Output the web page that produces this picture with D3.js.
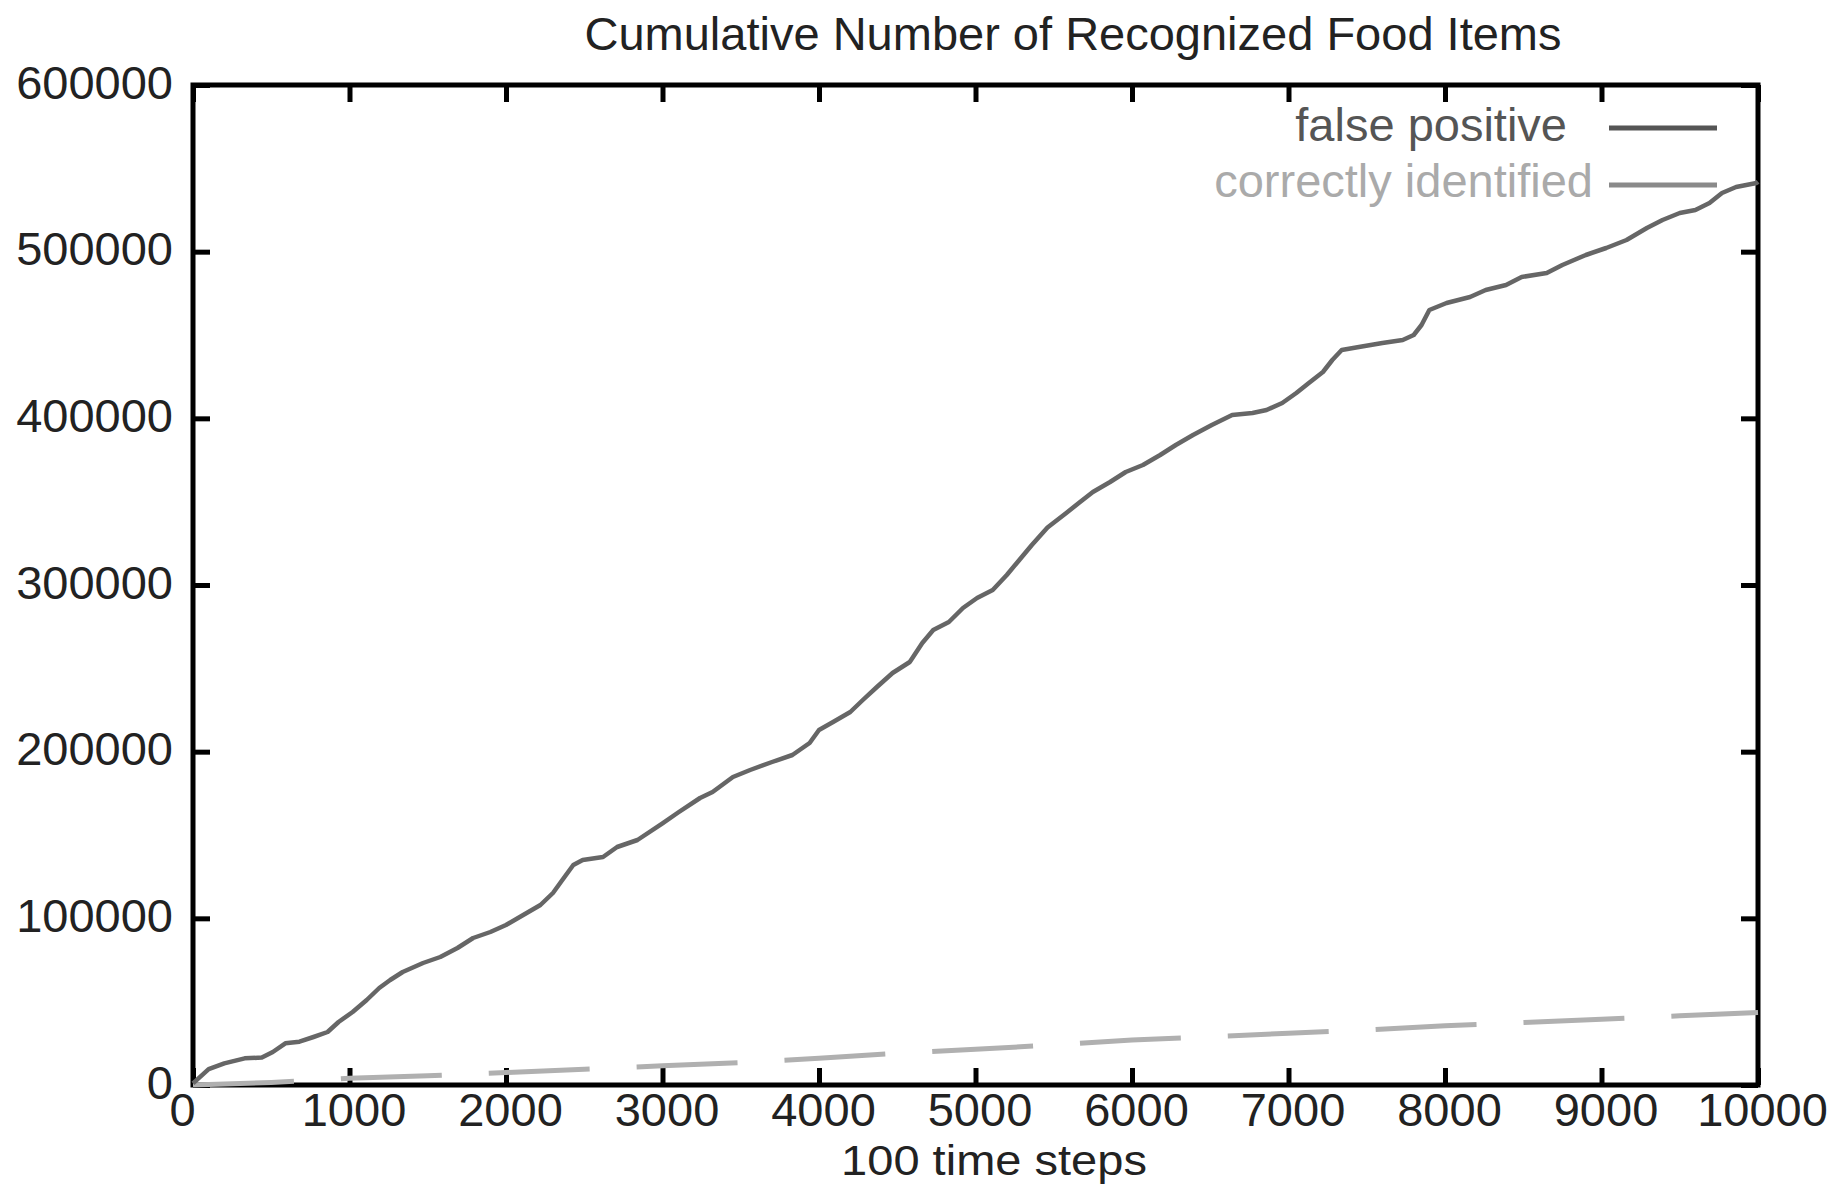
<!DOCTYPE html>
<html>
<head>
<meta charset="utf-8">
<title>Cumulative Number of Recognized Food Items</title>
<script src="https://cdn.jsdelivr.net/npm/d3@7"></script>
<style>
  html, body { margin: 0; padding: 0; background: #fff; }
  svg { display: block; }
  text { font-family: "Liberation Sans", Arial, Helvetica, sans-serif; }
</style>
</head>
<body>
<svg id="chart" width="1831" height="1185"></svg>
<script>
// Cumulative false positives, sampled at irregular time steps (x = 100 time steps)
const fpSteps = [0, 100, 200, 330, 440, 510, 590, 680, 770, 860, 930, 1020, 1110, 1190, 1260, 1340,
  1470, 1580, 1690, 1790, 1900, 2000, 2110, 2220, 2300, 2360, 2430, 2490, 2620, 2710, 2840, 3000,
  3100, 3240, 3320, 3450, 3560, 3700, 3830, 3940, 4000, 4090, 4200, 4280, 4370, 4470, 4580, 4660,
  4730, 4830, 4920, 5010, 5110, 5200, 5280, 5360, 5460, 5580, 5660, 5750, 5860, 5960, 6070, 6180,
  6280, 6390, 6510, 6640, 6770, 6860, 6960, 7050, 7130, 7220, 7280, 7340, 7450, 7600, 7730, 7800,
  7850, 7900, 8010, 8160, 8260, 8390, 8490, 8650, 8750, 8900, 9030, 9160, 9290, 9390, 9500, 9600,
  9690, 9770, 9860, 9990, 10000];
const fpCounts = [1000, 9500, 13000, 16000, 16500, 19800, 25000, 26000, 28800, 31800, 37800, 43800,
  51000, 58200, 63000, 67800, 73200, 76800, 82200, 88200, 91800, 96000, 102000, 108000, 115200,
  123000, 132000, 135000, 136800, 142800, 147000, 157000, 163500, 172200, 175800, 184800, 189000,
  193800, 198000, 205200, 213000, 217800, 223800, 231000, 238800, 247200, 253800, 265200, 273000,
  277800, 286200, 292200, 297000, 306000, 315000, 324000, 334500, 343200, 349200, 355800, 361800,
  367800, 372000, 378000, 384000, 390000, 396000, 402000, 403200, 405000, 409200, 415200, 421200,
  427800, 435000, 441000, 442800, 445200, 447000, 450000, 456000, 465000, 469200, 472800, 477000,
  480000, 484800, 487200, 492000, 498000, 502200, 507000, 514200, 519000, 523200, 525000, 529200,
  535200, 538800, 541200, 542000];

// Cumulative correctly identified items
const ciSteps = [0, 500, 1000, 1500, 2000, 2500, 3000, 3500, 4000, 4500, 5000, 5500, 6000, 6500,
  7000, 7500, 8000, 8500, 9000, 9500, 10000];
const ciCounts = [0, 1500, 4000, 5500, 7500, 9500, 11500, 13500, 16000, 19000, 21500, 24000, 27000,
  29000, 31000, 33000, 35500, 37500, 39500, 41500, 43500];

const xTicks = [0, 1000, 2000, 3000, 4000, 5000, 6000, 7000, 8000, 9000, 10000];
const yTicks = [0, 100000, 200000, 300000, 400000, 500000, 600000];

const seriesNames = ["false positive", "correctly identified"];
const titleText = "Cumulative Number of Recognized Food Items";
const xLabelText = "100 time steps";

// Plot frame
const plot = { left: 193, right: 1758, top: 85, bottom: 1085 };
const FONT = 47;

const svg = d3.select("#chart");

const x = d3.scaleLinear().domain([0, 10000]).range([plot.left, plot.right]);
const y = d3.scaleLinear().domain([0, 600000]).range([plot.bottom, plot.top]);

// Axes with inward ticks on all four sides
function styleAxis(g) {
  g.select(".domain").remove();
  g.selectAll(".tick line").attr("stroke", "#000").attr("stroke-width", 5);
  g.selectAll(".tick text")
    .attr("fill", "#222")
    .style("font-size", FONT + "px")
    .style("font-family", "'Liberation Sans', Arial, Helvetica, sans-serif");
}

svg.append("g")
  .attr("transform", `translate(0,${plot.bottom})`)
  .call(d3.axisBottom(x).tickValues(xTicks).tickFormat(d3.format("d"))
    .tickSizeInner(-17).tickSizeOuter(0).tickPadding(8))
  .call(styleAxis)
  .call(g => g.selectAll(".tick text").attr("dx", d => d === 0 ? -11 : 4));

svg.append("g")
  .attr("transform", `translate(0,${plot.top})`)
  .call(d3.axisTop(x).tickValues(xTicks).tickFormat("")
    .tickSizeInner(-17).tickSizeOuter(0))
  .call(styleAxis);

svg.append("g")
  .attr("transform", `translate(${plot.left},0)`)
  .call(d3.axisLeft(y).tickValues(yTicks).tickFormat(d3.format("d"))
    .tickSizeInner(-17).tickSizeOuter(0).tickPadding(20))
  .call(styleAxis)
  .call(g => g.selectAll(".tick text").attr("dy", "0.28em"));

svg.append("g")
  .attr("transform", `translate(${plot.right},0)`)
  .call(d3.axisRight(y).tickValues(yTicks).tickFormat("")
    .tickSizeInner(-17).tickSizeOuter(0))
  .call(styleAxis);

// Border
svg.append("rect")
  .attr("x", plot.left).attr("y", plot.top)
  .attr("width", plot.right - plot.left).attr("height", plot.bottom - plot.top)
  .attr("fill", "none").attr("stroke", "#000").attr("stroke-width", 5);

// Series
const line = d3.line().x(d => x(d[0])).y(d => y(d[1]));

const ciData = ciSteps.map((s, i) => [s, ciCounts[i]]);
const fpData = fpSteps.map((s, i) => [s, fpCounts[i]]);

svg.append("path")
  .datum(ciData)
  .attr("d", line)
  .attr("fill", "none")
  .attr("stroke", "#b0b0b0")
  .attr("stroke-width", 5)
  .attr("stroke-dasharray", "101,47");

svg.append("path")
  .datum(fpData)
  .attr("d", line)
  .attr("fill", "none")
  .attr("stroke", "#666")
  .attr("stroke-width", 4.5)
  .attr("stroke-linejoin", "round");

// Title and axis label
svg.append("text")
  .attr("x", 1073).attr("y", 50)
  .attr("text-anchor", "middle")
  .attr("fill", "#222")
  .style("font-size", FONT + "px")
  .text(titleText);

// x label: slightly shorter glyphs, stretched back to the same width
svg.append("text")
  .attr("transform", "translate(994,1175) scale(1.12,1)")
  .attr("text-anchor", "middle")
  .attr("fill", "#222")
  .style("font-size", "42px")
  .text(xLabelText);

// Legend
const legend = [
  { name: seriesNames[0], textEnd: 1567, baseline: 141, lineY: 128, textColor: "#555", lineColor: "#555" },
  { name: seriesNames[1], textEnd: 1593, baseline: 197, lineY: 185, textColor: "#aaa", lineColor: "#8a8a8a" }
];
const lg = svg.append("g");
legend.forEach(item => {
  lg.append("text")
    .attr("x", item.textEnd).attr("y", item.baseline)
    .attr("text-anchor", "end")
    .attr("fill", item.textColor)
    .style("font-size", FONT + "px")
    .text(item.name);
  lg.append("line")
    .attr("x1", 1609).attr("x2", 1717)
    .attr("y1", item.lineY).attr("y2", item.lineY)
    .attr("stroke", item.lineColor).attr("stroke-width", 5);
});
</script>
</body>
</html>
